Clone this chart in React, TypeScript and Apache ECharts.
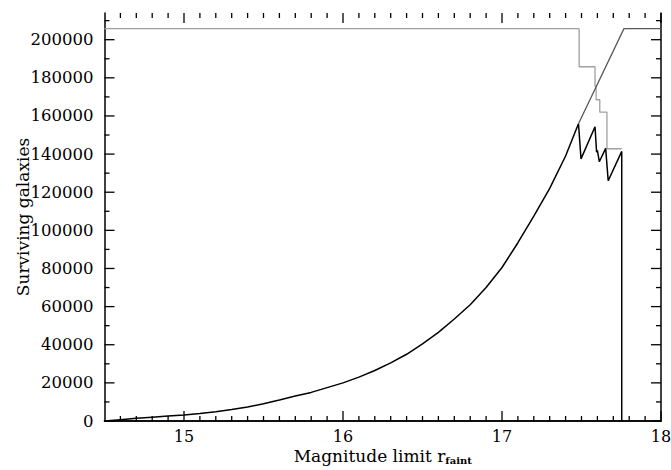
import React, { useEffect, useRef } from "react";
import * as echarts from "echarts";

// Magnitude limit (x) and surviving galaxies (y)
const blackMag = [
  14.5, 14.6, 14.7, 14.8, 14.9, 15.0, 15.1, 15.2, 15.3, 15.4, 15.5, 15.6, 15.7, 15.8, 15.9,
  16.0, 16.1, 16.2, 16.3, 16.4, 16.5, 16.6, 16.7, 16.8, 16.9, 17.0, 17.1, 17.2, 17.3, 17.4,
  17.481, 17.497, 17.585, 17.595, 17.6, 17.612, 17.652, 17.668, 17.753, 17.753,
];
const blackCount = [
  0, 700, 1400, 2000, 2600, 3200, 3900, 4800, 6000, 7400, 9000, 11000, 13100, 15000, 17500,
  20000, 23000, 26500, 30500, 35000, 40500, 46500, 53500, 61000, 70000, 80500, 93500, 107500, 122000, 139000,
  155900, 137500, 154300, 141000, 142000, 136000, 143000, 126000, 141400, 0,
];

const grayMag = [14.5, 17.485, 17.485, 17.585, 17.585, 17.592, 17.592, 17.615, 17.615, 17.66, 17.66, 17.753];
const grayCount = [205800, 205800, 185800, 185800, 175500, 175500, 168500, 168500, 162000, 162000, 142800, 142800];

const diagMag = [17.481, 17.767, 18.0];
const diagCount = [155900, 205800, 205800];

// Axis ticks
const xMajorTicks = [15, 16, 17, 18];
const yMajorTicks = [0, 20000, 40000, 60000, 80000, 100000, 120000, 140000, 160000, 180000, 200000];
const yMinorTicks = [10000, 30000, 50000, 70000, 90000, 110000, 130000, 150000, 170000, 190000, 210000];
const xMin = 14.5;
const xMax = 18;
const yMax = 214000;

const xMinorTicks: number[] = [];
for (let i = 146; i < 180; i++) if (i % 10 !== 0) xMinorTicks.push(i / 10);

const zip = (a: number[], b: number[]) => a.map((v, i) => [v, b[i]]);

const FONT = "DejaVu Serif";
const MAJOR_LEN = 10;
const MINOR_LEN = 5;

export default function App() {
  const ref = useRef<HTMLDivElement>(null);
  useEffect(() => {
    if (!ref.current) return;
    const chart = echarts.init(ref.current, undefined, { renderer: "svg" });
    const axisLine = { show: true, lineStyle: { color: "#000", width: 1.5 } };

    chart.setOption({
      animation: false,
      backgroundColor: "#fff",
      grid: { left: 104.5, right: 10, top: 13, bottom: 49, containLabel: false, outerBoundsMode: "none" },
      xAxis: [
        {
          type: "value",
          min: xMin,
          max: xMax,
          position: "bottom",
          splitLine: { show: false },
          axisLine,
          axisTick: { show: false },
          axisLabel: {
            customValues: xMajorTicks,
            color: "#000",
            fontFamily: FONT,
            fontSize: 16,
            margin: 7,
            formatter: (v: number) => String(v),
          },
          name: "{a|Magnitude limit r}{b|faint}",
          nameLocation: "middle",
          nameGap: 26,
          nameMoveOverlap: false,
          nameTextStyle: {
            rich: {
              a: { fontFamily: FONT, fontSize: 17, color: "#000", verticalAlign: "top", lineHeight: 18 },
              b: { fontFamily: FONT, fontSize: 10, fontWeight: "bold", color: "#000", verticalAlign: "bottom", lineHeight: 1 },
            },
          },
        },
        {
          type: "value",
          min: xMin,
          max: xMax,
          position: "top",
          splitLine: { show: false },
          axisLine,
          axisTick: { show: false },
          axisLabel: { show: false },
        },
      ],
      yAxis: [
        {
          type: "value",
          min: 0,
          max: yMax,
          interval: 20000,
          position: "left",
          splitLine: { show: false },
          axisLine,
          axisTick: { show: false },
          axisLabel: {
            color: "#000",
            fontFamily: FONT,
            fontSize: 16.5,
            margin: 11,
            showMaxLabel: false,
            formatter: (v: number) => (v <= 200000 ? String(v) : ""),
          },
          name: "Surviving galaxies",
          nameLocation: "middle",
          nameGap: 73,
          nameMoveOverlap: false,
          nameTextStyle: { fontFamily: FONT, fontSize: 17, color: "#000" },
        },
        {
          type: "value",
          min: 0,
          max: yMax,
          position: "right",
          splitLine: { show: false },
          axisLine,
          axisTick: { show: false },
          axisLabel: { show: false },
        },
      ],
      series: [
        {
          type: "line",
          data: zip(grayMag, grayCount),
          showSymbol: false,
          lineStyle: { color: "#a0a0a0", width: 1.3 },
          silent: true,
        },
        {
          type: "line",
          data: zip(blackMag, blackCount),
          showSymbol: false,
          lineStyle: { color: "#000", width: 1.5 },
          silent: true,
        },
        {
          type: "line",
          data: zip(diagMag, diagCount),
          showSymbol: false,
          lineStyle: { color: "#5a5a5a", width: 1.3 },
          silent: true,
        },
      ],
    });

    // Ticks pointing inwards on all four sides, positioned through the chart's own scales
    const toPx = (x: number, y: number) =>
      chart.convertToPixel({ xAxisIndex: 0, yAxisIndex: 0 }, [x, y]) as number[];
    const tickStyle = { stroke: "#000", lineWidth: 1.3 };
    const elements: any[] = [];
    const addX = (v: number, len: number) => {
      const b = toPx(v, 0);
      const t = toPx(v, yMax);
      elements.push({ type: "line", silent: true, z: 10, shape: { x1: b[0], y1: b[1], x2: b[0], y2: b[1] - len }, style: tickStyle });
      elements.push({ type: "line", silent: true, z: 10, shape: { x1: t[0], y1: t[1], x2: t[0], y2: t[1] + len }, style: tickStyle });
    };
    const addY = (v: number, len: number) => {
      const l = toPx(xMin, v);
      const r = toPx(xMax, v);
      elements.push({ type: "line", silent: true, z: 10, shape: { x1: l[0], y1: l[1], x2: l[0] + len, y2: l[1] }, style: tickStyle });
      elements.push({ type: "line", silent: true, z: 10, shape: { x1: r[0], y1: r[1], x2: r[0] - len, y2: r[1] }, style: tickStyle });
    };
    xMajorTicks.forEach((v) => addX(v, MAJOR_LEN));
    xMinorTicks.forEach((v) => addX(v, MINOR_LEN));
    yMajorTicks.forEach((v) => addY(v, MAJOR_LEN));
    yMinorTicks.forEach((v) => addY(v, MINOR_LEN));
    chart.setOption({ graphic: { elements } });

    return () => chart.dispose();
  }, []);
  return (
    <div
      ref={ref}
      style={{ position: "fixed", left: 0, top: 0, width: 671, height: 470, background: "#fff" }}
    />
  );
}
